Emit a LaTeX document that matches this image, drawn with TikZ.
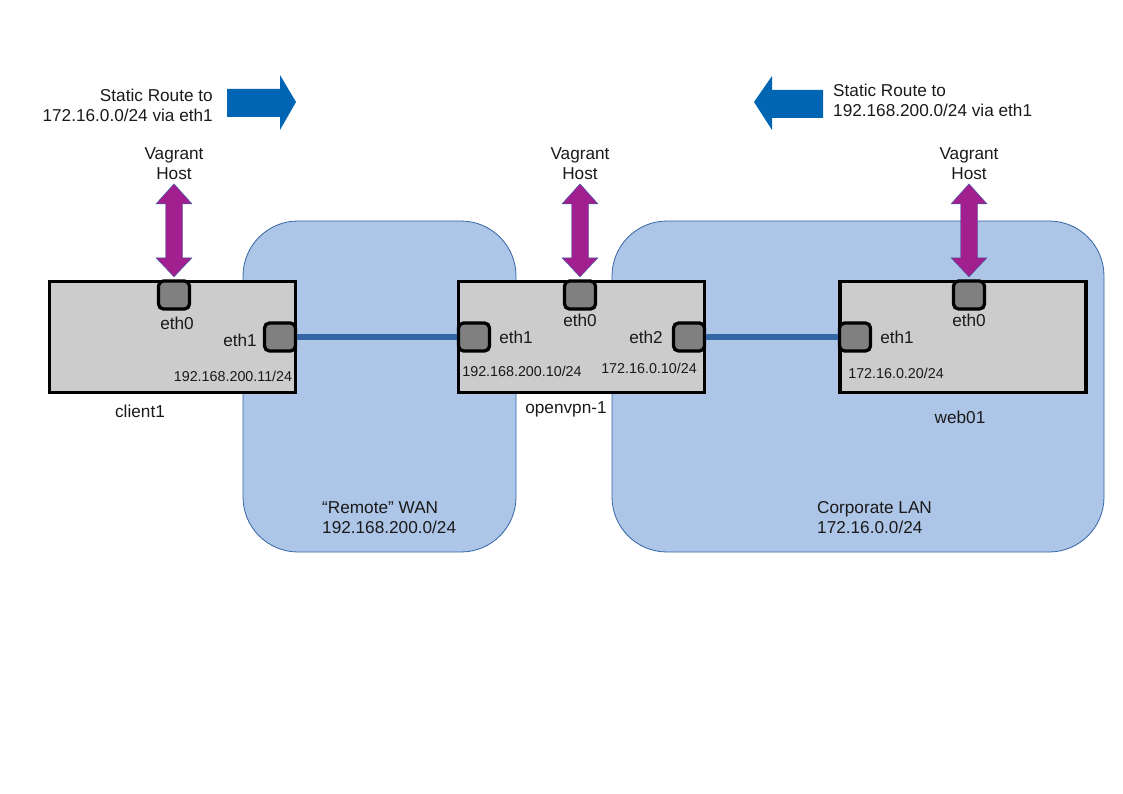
\documentclass[tikz,border=0pt]{standalone}
\usepackage{fontspec}
\setmainfont{Liberation Sans}
\definecolor{zonefill}{RGB}{173,197,231}
\definecolor{zoneline}{RGB}{52,101,164}
\definecolor{linkblue}{RGB}{52,101,164}
\definecolor{routeblue}{RGB}{0,101,179}
\definecolor{hostpurple}{RGB}{161,31,142}
\definecolor{boxgray}{RGB}{204,204,204}
\definecolor{portgray}{RGB}{128,128,128}
\definecolor{txt}{RGB}{26,26,26}

\begin{document}
\begin{tikzpicture}[x=1pt, y=-1pt, font=\fontsize{17.2}{19.8}\selectfont, text=txt,
    lanzone/.style={fill=zonefill, draw=zoneline, line width=0.8pt, rounded corners=55pt},
    hostbox/.style={draw=black, fill=boxgray, line width=3.3pt, minimum width=246pt, minimum height=111pt, inner sep=0pt},
    port/.style={draw=black, fill=portgray, line width=3.3pt, rounded corners=5pt, minimum width=31pt, minimum height=28pt, inner sep=0pt},
    link/.style={draw=linkblue, line width=6pt},
    hostarrow/.style={fill=hostpurple, draw=zoneline, line width=0.4pt},
    routearrow/.style={fill=routeblue},
    small/.style={font=\fontsize{14.3}{17}\selectfont}]

    \useasboundingbox (0,0) rectangle (1123,794);

    % Network zones
    \draw[lanzone] (243,221) rectangle (516,552);
    \draw[lanzone] (612,221) rectangle (1104,552);
    \node (wanlbl) at (322,517.5) [anchor=west, align=left, inner sep=0pt] {“Remote” WAN\\192.168.200.0/24};
    \node (lanlbl) at (817,517.5) [anchor=west, align=left, inner sep=0pt] {Corporate LAN\\172.16.0.0/24};

    % Static routes
    \fill[routearrow] (227,89) -- (280,89) -- (280,75) -- (296,102) -- (280,130) -- (280,117) -- (227,117) -- cycle;
    \fill[routearrow] (823,90) -- (772,90) -- (772,76) -- (754,102) -- (772,130) -- (772,118) -- (823,118) -- cycle;
    \node (route1) at (213,105) [anchor=east, align=right, inner sep=0pt] {Static Route to\\172.16.0.0/24 via eth1};
    \node (route2) at (833,100.5) [anchor=west, align=left, inner sep=0pt] {Static Route to\\192.168.200.0/24 via eth1};

    % client1
    \node[hostbox] (client1) at (172.5,337) {};
    \node[port] (c1eth0) at (174,295) {};
    \node[port] (c1eth1) at (280,337) {};
    \node (c1eth0lbl) at (177,323) {eth0};
    \node (c1eth1lbl) at (240,340) {eth1};
    \node (c1ip) at (233,376) [small] {192.168.200.11/24};
    \node (c1name) at (140,411) {client1};

    % openvpn-1
    \node[hostbox] (vpn) at (581.5,337) {};
    \node[port] (vpneth0) at (580,295) {};
    \node[port] (vpneth1) at (474,337) {};
    \node[port] (vpneth2) at (689,337) {};
    \node (vpneth0lbl) at (580,320) {eth0};
    \node (vpneth1lbl) at (516,337) {eth1};
    \node (vpneth2lbl) at (646,337) {eth2};
    \node (vpnip1) at (522,371) [small] {192.168.200.10/24};
    \node (vpnip2) at (649,368) [small] {172.16.0.10/24};
    \node (vpnname) at (566,409) {openvpn-1};

    % web01
    \node[hostbox] (web) at (963,337) {};
    \node[port] (webeth0) at (969,295) {};
    \node[port] (webeth1) at (855,337) {};
    \node (webeth0lbl) at (969,320) {eth0};
    \node (webeth1lbl) at (897,337) {eth1};
    \node (webip) at (896,373) [small] {172.16.0.20/24};
    \node (webname) at (960,417) {web01};

    % Links
    \draw[link] (c1eth1) -- (vpneth1);
    \draw[link] (vpneth2) -- (webeth1);

    % Vagrant host access
    \foreach \p/\n in {c1eth0/c1host, vpneth0/vpnhost, webeth0/webhost} {
        \draw[hostarrow] ([yshift=2.5pt]\p.north) -- ++(18,-19) -- ++(-9.5,0) -- ++(0,-54) -- ++(9.5,0)
            -- ++(-18,-20) -- ++(-18,20) -- ++(9.5,0) -- ++(0,54) -- ++(-9.5,0) -- cycle;
        \node[align=center] (\n) at ([yshift=116pt]\p.north) {Vagrant\\Host};
    }

\end{tikzpicture}
\end{document}
